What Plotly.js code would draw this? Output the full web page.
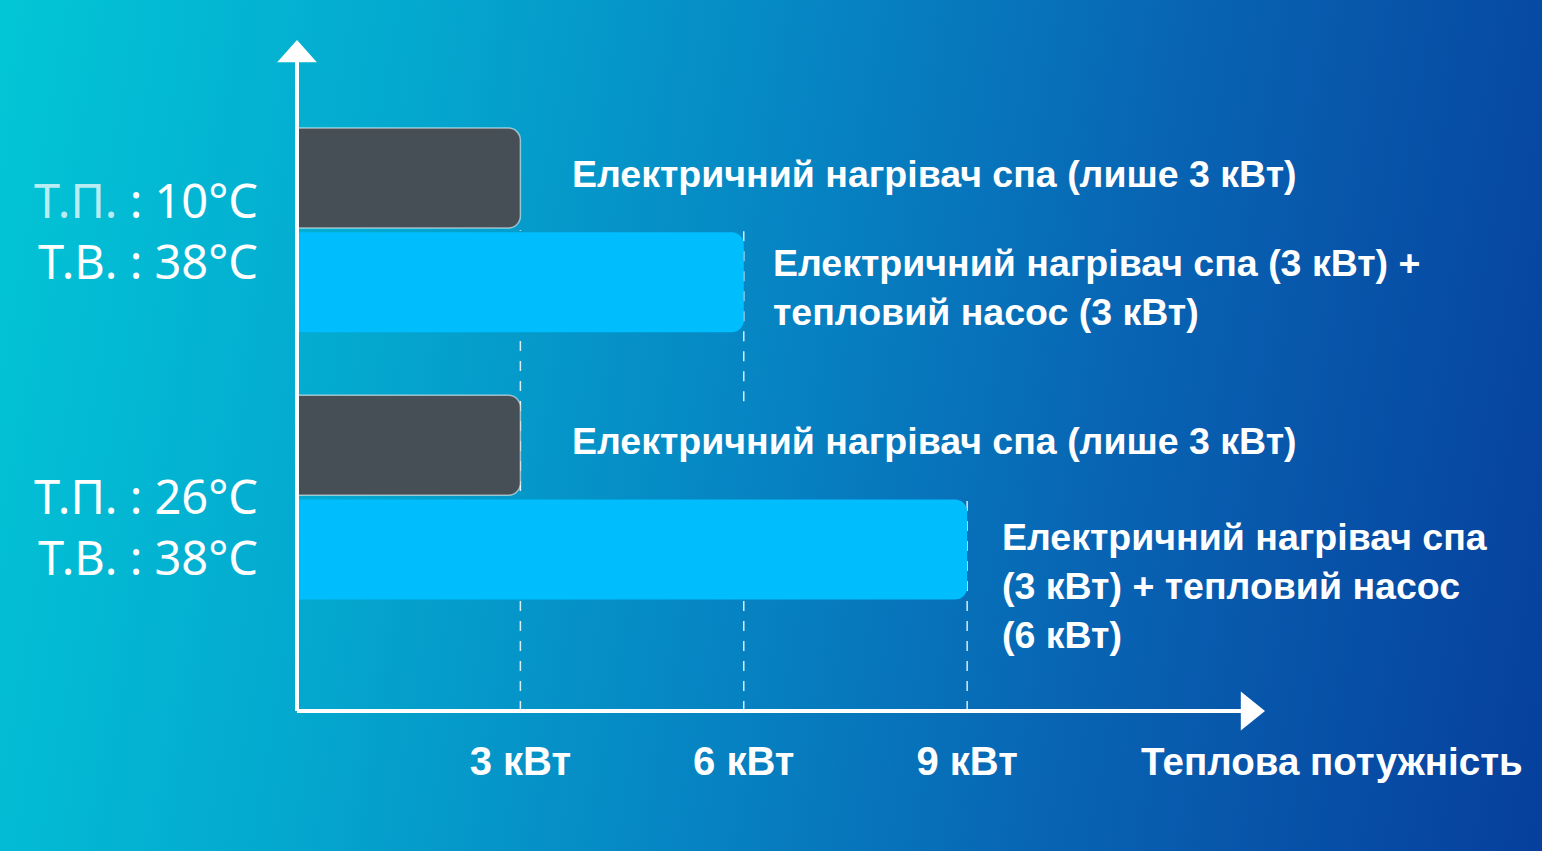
<!DOCTYPE html>
<html>
<head>
<meta charset="utf-8">
<script src="https://cdn.plot.ly/plotly-3.0.1.min.js"></script>
<style>
  html, body { margin: 0; padding: 0; }
  body {
    width: 1542px; height: 851px; overflow: hidden;
    background: linear-gradient(100deg, #02c6d6 0%, #04a8cf 25%, #0683c2 50%, #0862b2 72%, #063f9c 100%);
  }
  #chart { width: 1542px; height: 851px; }
</style>
</head>
<body>
<div id="chart"></div>
<script>
// categories (water temperatures)
const groups = ["10°C", "26°C"]
const groupLabels = [
    "<span style='color:rgba(255,255,255,0.72)'>Т.П.</span> : 10°C<br>Т.В. : 38°C",
    "Т.П. : 26°C<br>Т.В. : 38°C"
]

// heat output, kW
const heaterOnly = [3, 3]
const heaterPlusPump = [6, 9]

const heaterLabels = [
    "Електричний нагрівач спа (лише 3 кВт)",
    "Електричний нагрівач спа (лише 3 кВт)"
]
const comboLabels = [
    "Електричний нагрівач спа (3 кВт) +<br>тепловий насос (3 кВт)",
    "Електричний нагрівач спа<br>(3 кВт) + тепловий насос<br>(6 кВт)"
]

const xTicks = [3, 6, 9]
const xTickText = ["3 кВт", "6 кВт", "9 кВт"]
const xTitle = "Теплова потужність"

const sansBold = "'Liberation Sans', Arial, sans-serif"
const textFont = { family: sansBold, size: 37.5, color: "#ffffff", weight: "bold" }

let bargap = 0.22
let slot = (1 - bargap) / 4

let data = [{
    type: "bar",
    orientation: "h",
    y: groups,
    x: heaterOnly,
    marker: { color: "#454f55", cornerradius: 12, line: { color: "rgba(255,255,255,0.55)", width: 1.5 } },
    hoverinfo: "skip"
}, {
    type: "bar",
    orientation: "h",
    y: groups,
    x: heaterPlusPump,
    marker: { color: "#00bdfd", cornerradius: 12, line: { width: 0 } },
    hoverinfo: "skip"
}]

let annotations = []
let yShiftCombo = [-5, -37]
let xShiftCombo = [27, 33]
let yShiftGroup = [0, -29]
for (let i = 0; i < groups.length; i++) {
    annotations.push({
        x: 0, y: i, xref: "paper", yref: "y",
        text: groupLabels[i], showarrow: false, xanchor: "right", align: "right",
        xshift: -37, yshift: yShiftGroup[i],
        font: { family: "'Noto Sans', 'Open Sans', sans-serif", size: 47, color: "#ffffff" }
    })
    annotations.push({
        x: heaterOnly[i], y: i - slot, xref: "x", yref: "y",
        text: heaterLabels[i], showarrow: false, xanchor: "left", align: "left",
        xshift: 50, yshift: 4, font: textFont
    })
    annotations.push({
        x: heaterPlusPump[i], y: i + slot, xref: "x", yref: "y",
        text: comboLabels[i], showarrow: false, xanchor: "left", align: "left",
        xshift: xShiftCombo[i], yshift: yShiftCombo[i], font: textFont
    })
}
annotations.push({
    x: 1.069, y: -0.076, xref: "paper", yref: "paper",
    text: xTitle, showarrow: false, xanchor: "center", yanchor: "middle",
    font: { family: sansBold, size: 38.5, color: "#ffffff", weight: "bold" }
})

// dashed guides (broken where the second group's label crosses the 6 kW line)
let guides = [
    { x: xTicks[0], from: 1.8, to: 0 },
    { x: xTicks[1], from: 1.8, to: 1 },
    { x: xTicks[1], from: 0.64, to: 0 },
    { x: xTicks[2], from: 1.8, to: 1 }
]
let shapes = guides.map(g => ({
    type: "line", xref: "x", yref: "y", layer: "below",
    x0: g.x, x1: g.x, y0: g.from, y1: g.to,
    line: { color: "rgba(255,255,255,0.85)", width: 1.5, dash: "10px,10px" }
}))

// axis lines with arrow heads
shapes.push({ type: "line", xref: "paper", yref: "paper", x0: 0, x1: 0.978, y0: 0, y1: 0, line: { color: "#ffffff", width: 4 } })
shapes.push({ type: "line", xref: "paper", yref: "paper", x0: 0, x1: 0, y0: 0, y1: 0.97, line: { color: "#ffffff", width: 4 } })
shapes.push({ type: "path", xref: "paper", yref: "paper", path: "M 0.975 -0.029 L 1 0 L 0.975 0.029 Z", fillcolor: "#ffffff", line: { width: 0 } })
shapes.push({ type: "path", xref: "paper", yref: "paper", path: "M -0.0205 0.967 L 0 1 L 0.0205 0.967 Z", fillcolor: "#ffffff", line: { width: 0 } })

let layout = {
    width: 1542,
    height: 851,
    margin: { l: 297, r: 277, t: 40, b: 140 },
    paper_bgcolor: "rgba(0,0,0,0)",
    plot_bgcolor: "rgba(0,0,0,0)",
    barmode: "group",
    bargap: bargap,
    bargroupgap: 0.04,
    showlegend: false,
    xaxis: {
        range: [0, 13.0],
        tickvals: xTicks,
        ticktext: xTickText,
        showgrid: false,
        zeroline: false,
        showline: false,
        ticks: "",
        ticklabelstandoff: 23,
        tickfont: { family: sansBold, size: 40, color: "#ffffff", weight: "bold" },
        fixedrange: true
    },
    yaxis: {
        type: "category",
        range: [1.8, -0.712],
        showticklabels: false,
        showgrid: false,
        zeroline: false,
        showline: false,
        ticks: "",
        fixedrange: true
    },
    shapes: shapes,
    annotations: annotations
}

Plotly.newPlot("chart", data, layout, { displayModeBar: false, staticPlot: true })
</script>
</body>
</html>
